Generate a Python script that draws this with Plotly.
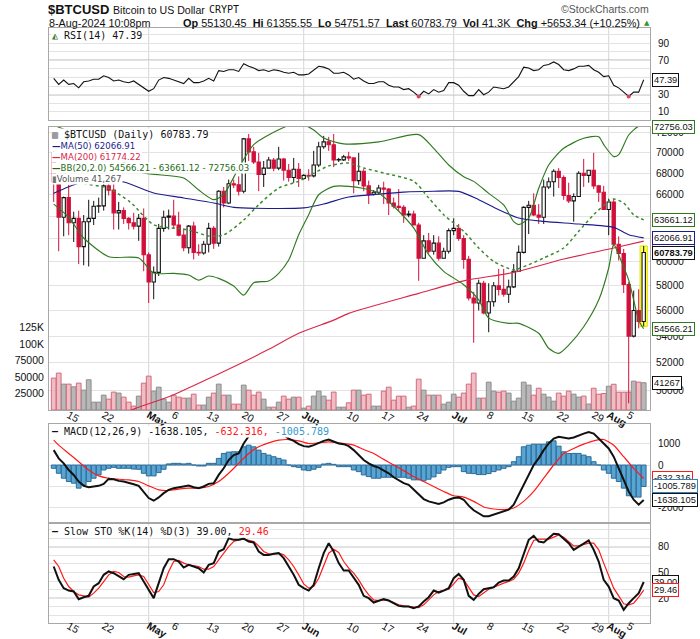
import numpy as np
import pandas as pd
import plotly.graph_objects as go

# ---------------------------------------------------------------- data
START_DATE = "2024-04-12"   # first daily candle (index 0)

OPEN = [70000, 67200, 63900, 65700, 63400, 63800, 61300, 63500, 63800, 64900,
        64940, 66800, 66400, 64300, 64500, 63800, 63400, 63100, 63800, 60600,
        58300, 59100, 62900, 63900, 64000, 63200, 62300, 61200, 63100, 60800,
        60750, 61500, 62900, 61600, 66300, 65200, 67000, 66900, 66300, 71400,
        70100, 69100, 67900, 68500, 69300, 68500, 69400, 68300, 67600, 68400,
        67500, 67800, 67750, 68800, 70600, 71100, 70800, 69300, 69310, 69600,
        69500, 67300, 68200, 66800, 66000, 66200, 66600, 66500, 65200, 64900,
        64800, 64100, 64200, 63200, 60300, 61800, 60900, 61600, 60300, 60900,
        62700, 62900, 62000, 60200, 57000, 56600, 58200, 55800, 56700, 58000,
        57700, 57300, 57900, 59200, 60800, 64800, 65000, 64100, 63900, 66700,
        67200, 68200, 67600, 65900, 65400, 65800, 68000, 67800, 68300, 66800,
        66200, 64600, 65300, 61500, 60700, 58100, 54000, 56000, 55130.45]
HIGH = [71200, 67900, 65800, 66900, 64400, 64500, 64100, 65500, 65400, 65700,
        67200, 67200, 67100, 65300, 64800, 63900, 64300, 64200, 64700, 60800,
        59600, 63300, 64500, 64600, 65500, 64400, 62900, 63200, 63500, 61500,
        61800, 63400, 63100, 66400, 66700, 67400, 67400, 67700, 71500, 71900,
        70600, 70000, 69200, 69600, 69500, 70600, 69500, 68900, 69500, 69000,
        67900, 68400, 70200, 71100, 71700, 71600, 71900, 69500, 69800, 70100,
        69500, 70000, 68400, 67300, 66400, 66900, 67200, 66600, 65700, 66500,
        65000, 64500, 64500, 63400, 62300, 62500, 62300, 62200, 61200, 62900,
        63800, 63300, 62300, 60500, 57500, 58500, 58400, 58200, 58300, 59400,
        59400, 58500, 59800, 61400, 64900, 65400, 66100, 65100, 67400, 67600,
        68400, 68500, 67800, 67100, 66100, 68200, 69400, 68300, 70000, 66900,
        66800, 65600, 65600, 62200, 61100, 58300, 57600, 57700, 61355.55]
LOW = [65300, 60900, 62200, 62300, 61700, 59800, 59700, 59600, 63200, 64300,
       64500, 65900, 62800, 62800, 63300, 62800, 62800, 61800, 59200, 56600,
       56900, 58800, 62600, 62800, 62900, 62200, 60900, 60700, 60200, 60500,
       60600, 60800, 61100, 61300, 64800, 65100, 66600, 65900, 66100, 69200,
       68900, 66300, 66700, 68500, 68200, 68300, 67300, 67200, 67100, 66700,
       67400, 67300, 67600, 68600, 70400, 70200, 68600, 69100, 69200, 69200,
       66100, 66900, 66300, 65100, 65900, 66000, 65100, 64100, 64700, 64500,
       63400, 63900, 63200, 58400, 60300, 60700, 60600, 60100, 60300, 60700,
       62300, 61800, 59400, 56800, 53500, 56000, 55700, 54300, 56300, 57200,
       57100, 56600, 57800, 59200, 60700, 62400, 64000, 63300, 63300, 66500,
       65800, 66600, 65500, 65200, 63500, 65800, 66700, 67100, 66500, 65300,
       64600, 62300, 61300, 60100, 57400, 49100, 53900, 54600, 54751.57]
CLOSE = [67200, 63900, 65700, 63400, 63800, 61300, 63500, 63800, 64900, 64940,
         66800, 66400, 64300, 64500, 63800, 63400, 63100, 63800, 60600, 58300,
         59100, 62900, 63900, 64000, 63200, 62300, 61200, 63100, 60800, 60750,
         61500, 62900, 61600, 66300, 65200, 67000, 66900, 66300, 71400, 70100,
         69100, 67900, 68500, 69300, 68500, 69400, 68300, 67600, 68400, 67500,
         67800, 67750, 68800, 70600, 71100, 70800, 69300, 69310, 69600, 69500,
         67300, 68200, 66800, 66000, 66200, 66600, 66500, 65200, 64900, 64800,
         64100, 64200, 63200, 60300, 61800, 60900, 61600, 60300, 60900, 62700,
         62900, 62000, 60200, 57000, 56600, 58200, 55800, 56700, 58000, 57700,
         57300, 57900, 59200, 60800, 64800, 65000, 64100, 63900, 66700, 67200,
         68200, 67600, 65900, 65400, 65800, 68000, 67800, 68300, 66800, 66200,
         64600, 65300, 61500, 60700, 58100, 54000, 56000, 55130.45, 60783.79]
VOLUME = [48300, 55900, 39200, 39200, 35100, 40700, 30100, 45800, 11900, 11900,
          22500, 16500, 27100, 25600, 19500, 11900, 5900, 21000, 40700,
          51300, 28600, 34600, 16500, 11900, 22500, 19500, 18000, 18000, 24000,
          7400, 7400, 19500, 25600, 39200, 22500, 22500, 8900, 8900, 37700,
          30100, 22500, 27100, 16500, 4300, 4300, 11900, 21000, 16500, 19500, 19500,
          2800, 5900, 21000, 28600, 21000, 14900, 27100, 4300, 4300, 10900,
          30100, 30100, 22500, 24000, 5900, 5900, 28600, 34600, 14900, 21000,
          21000, 4300, 5900, 46700, 30100, 22500, 22500, 22500, 8900, 11900,
          24000, 19500, 25600, 39200, 55900, 18000, 18000, 42200, 28600, 27100,
          28600, 25600, 13400, 18000, 42200, 37700, 22500, 33000, 24000, 19500,
          13400, 25600, 21000, 28600, 24000, 19500, 21000, 9000, 33000, 24000, 25000,
          36000, 39000, 27000, 27000, 27100, 43700, 42200, 41267]

RSI14 = [49, 42, 47, 42, 43, 38, 45, 46, 48, 48, 52, 50, 46, 47, 45, 44, 46, 42, 37, 34,
         37, 47, 50, 49, 47, 45, 43, 49, 44, 44, 46, 49, 46, 58, 57, 59, 59, 57, 66, 63,
         61, 58, 59, 57, 59, 58, 56, 55, 56, 53, 53, 54, 58, 63, 62, 60, 55, 55, 56, 53,
         48, 50, 46, 43, 43, 45, 45, 41, 39, 39, 36, 37, 33, 28, 34, 31, 36, 33, 35, 44,
         44, 41, 34, 29, 29, 36, 30, 33, 39, 38, 37, 39, 45, 51, 62, 61, 58, 59, 64, 65,
         68, 65, 59, 58, 60, 63, 63, 64, 59, 56, 51, 52, 41, 38, 33, 28, 33, 33, 47.39]

MACD_LINE = [698, 310, 78, -233, -465, -775, -977, -1039, -1008, -977,
             -884, -651, -667, -744, -775, -822, -899, -977, -1240, -1550,
             -1674, -1519, -1318, -1163, -1085, -1054, -1008, -961, -1039, -1085,
             -1008, -884, -853, -465, -155, 233, 465, 543, 1008, 1349,
             1520, 1560, 1520, 1500, 1490, 1470, 1400, 1240, 1132, 977,
             884, 853, 930, 1039, 1132, 1194, 1085, 1008, 977, 884,
             698, 465, 233, 78, -47, -124, -264, -388, -574, -729,
             -853, -930, -1163, -1395, -1597, -1705, -1783, -1829, -1752, -1628,
             -1550, -1519, -1628, -1907, -2124, -2248, -2403, -2403, -2325, -2217,
             -2170, -2093, -1860, -1395, -853, -388, 0, 310, 698, 1008,
             1240, 1318, 1287, 1240, 1287, 1395, 1473, 1550, 1473, 1240,
             1008, 775, 388, -155, -698, -1240, -1628, -1860, -1638.105]
MACD_HIST = [-155, -388, -620, -775, -853, -1085, -930, -775, -620, -465,
             -233, -155, -109, -155, -155, -155, -190, -200, -388, -512,
             -512, -357, -200, 50, 78, 78, 50, 78, 0, -47,
             -47, 78, 78, 310, 543, 605, 620, 620, 853, 930,
             853, 698, 543, 465, 388, 310, 233, 0, -78, -109,
             -233, -264, -200, -109, 47, 78, 30, -78, -78, -78,
             -233, -310, -465, -543, -620, -620, -574, -574, -574, -574,
             -574, -620, -698, -698, -744, -667, -558, -388, -233, -109,
             -78, -78, -310, -388, -403, -450, -450, -403, -310, -233,
             -155, -78, 155, 388, 853, 930, 977, 977, 977, 1085,
             1132, 884, 620, 543, 543, 543, 465, 388, 155, 0,
             -233, -388, -620, -775, -1085, -1442, -1504, -1504, -1005.789]
SIGNAL_DAY = [0, 1, 3, 5, 7, 9, 11, 13, 15, 17, 19, 21, 23, 25, 27, 29, 31, 33, 35, 37,
              39, 41, 43, 45, 47, 49, 51, 53, 55, 57, 59, 60, 62, 64, 66, 68, 70, 72, 74,
              76, 78, 80, 82, 84, 86, 88, 90, 92, 94, 96, 98, 100, 102, 104, 106, 108,
              110, 112, 114, 116, 118]
SIGNAL = [1163, 930, 543, 155, -233, -512, -620, -667, -698, -775, -977, -1163, -1194,
          -1132, -1085, -1085, -1008, -775, -388, 78, 543, 853, 1039, 1163, 1194, 1132,
          1008, 1039, 1085, 1039, 977, 930, 729, 543, 264, 0, -264, -543, -775, -1008,
          -1240, -1442, -1504, -1705, -1969, -2062, -2093, -2015, -1705, -1240, -620, 0,
          543, 775, 977, 1132, 1194, 930, 388, -155, -632.316]

STO_K = [57, 41.5, 31.8, 29, 27.9, 19, 21.3, 22.9, 33.7, 37.6, 47.3, 51.2, 49.2, 45.3,
         42.2, 47.3, 48.4, 49.2, 39.5, 29.8, 20.2, 37.6, 55, 65.5, 65.5, 62.8, 55.8, 58.9,
         57, 55, 50, 58.9, 60.9, 74.4, 77.1, 89.9, 88, 88, 89.5, 86, 84.9, 74.4, 70.5,
         70.5, 71.7, 72.5, 66.7, 57, 47.3, 35.7, 31.8, 29, 35.7, 55, 72.5, 84.1, 74.4,
         60.9, 52.3, 52.3,
         43.4, 35.7, 22.9, 20.2, 15.1, 17.4, 19, 17.4, 14.3, 11.2, 10.5, 10.5, 8.5, 10.5,
         16.3, 21.3, 29, 26.7, 29, 31.8, 43.4, 48.4, 41.5, 22.9, 18.2, 25.2, 30.6, 31.8,
         32.9, 38.4, 40.7, 40.7, 45.3, 55, 72.5, 88, 92.6, 86, 84.9, 89.9, 95, 94.6, 89.9,
         84.1, 76.4, 80.2, 84.1, 87.2, 76.4, 62.8, 41.5, 33.7, 20.2, 17.4, 6.6, 14.3, 20.2,
         26, 39.00]
STO_D = [64.7, 57, 43.4, 33.7, 27.9, 24, 22.9, 21.3, 26, 31.8, 39.5, 47.3, 51.2, 50,
         45.3, 44.6, 46.1, 47.3, 45.3, 35.7, 26.7, 27.9, 35.7, 51.2, 62.8, 64, 60.9, 58.9,
         57.8, 57, 53.9, 53.9, 57, 64.7, 72.5, 80.2, 86, 88, 88.8, 87.2, 86, 81, 74.4,
         71.7, 71.3, 72.5, 70.5, 64.7, 57, 47.3, 36.8, 31.8, 33.7, 43.4, 58.9, 72.5, 77.1,
         73.3, 62.8, 55,
         49.2, 41.5, 31.8, 24, 18.2, 17.4, 18.2, 17.4, 15.1, 12.4, 11.2, 10.5, 9.7, 9.3,
         12.4, 18.2, 24, 27.9, 29, 30.6, 36.8, 43.4, 41.5, 32.9, 24, 22.1, 26.7, 30.6,
         32.9, 35.7, 37.6, 39.5, 42.2, 49.2, 60.9, 75.6, 87.2, 88.8, 88.8, 88.8, 91.1,
         93.8, 91.1, 86, 81, 81, 82.2, 84.1, 84.1, 76.4, 60.9, 45.3, 31.8, 22.9, 13.6,
         12.4, 14.3, 21.3, 29.46]

MA50_DAY = [0, 5, 10, 14, 20, 26, 32, 36, 43, 50, 54, 59, 64, 70, 76, 81, 85, 89, 93,
            98, 105, 112, 115, 118]
MA50 = [66100, 67050, 67250, 67170, 66130, 65670, 65200, 64800, 64700, 64750, 65110,
        65760, 65980, 66220, 66300, 66280, 65510, 64590, 63830, 63530, 63290, 62990,
        62340, 62066.91]
MA200_DAY = [0, 16, 23, 29, 36, 43, 49, 56, 59, 73, 82, 92, 102, 112, 118]
MA200 = [46450, 48700, 49560, 50510, 51710, 53000, 54220, 55240, 55770, 57370, 58400,
         59100, 60230, 61180, 61774.22]
BB_UP_DAY = [0, 6, 11, 15, 18, 26, 29, 32, 34, 37, 40, 45, 49, 52, 54, 58, 65, 73, 76,
             79, 82, 84, 87, 90, 92, 93, 95, 97, 99, 102, 106, 109, 110, 112, 113, 115,
             117, 118]
BB_UP = [72800, 71500, 70000, 68800, 68040, 67550, 66410, 65510, 66000, 68510, 70820,
         72330, 73030, 72300, 71490, 70890, 71090, 71830, 70450, 68810, 67680, 67230,
         66100, 65020, 63500, 63240, 63830, 66570, 68810, 70450, 71460, 71620, 70820,
         69630, 69820, 71790, 72700, 72756.03]
BB_MID_DAY = [0, 5, 11, 15, 16, 20, 27, 31, 34, 38, 41, 45, 49, 52, 55, 59, 62, 66, 72,
              75, 78, 82, 85, 88, 92, 95, 98, 102, 105, 108, 111, 112, 114, 116, 118]
BB_MID = [68900, 67200, 66570, 65390, 64990, 63230, 62760, 62230, 62320, 63650, 65040,
          66600, 67240, 68000, 68710, 69000, 68510, 68030, 67240, 65670, 64130, 62640,
          61180, 60030, 59320, 59750, 60320, 61180, 62640, 64130, 65360, 65570, 65200,
          64130, 63661.12]
BB_LO_DAY = [0, 3, 6, 11, 17, 20, 24, 27, 29, 31, 33, 36, 38, 40, 43, 45, 47, 49, 51,
             53, 56, 59, 62, 65, 68, 72, 75, 78, 82, 85, 87, 91, 93, 97, 99, 101, 103,
             106, 109, 111, 112, 113, 115, 116, 117, 118]
BB_LO = [65100, 63900, 62050, 60430, 60320, 59050, 59020, 58880, 58460, 58800, 58600,
         57970, 57230, 58240, 58390, 59020, 60140, 62340, 64130, 65970, 66760, 66760,
         66550, 66130, 64900, 62940, 60600, 59190, 58080, 56850, 55400, 54990, 54990,
         54220, 53080, 52700, 53320, 54720, 56830, 59470, 61520, 60570, 58460, 56830,
         55220, 54566.21]

TICK_DATES = ["2024-04-15", "2024-04-22", "2024-05-01", "2024-05-06", "2024-05-13",
              "2024-05-20", "2024-05-27", "2024-06-01", "2024-06-10", "2024-06-17",
              "2024-06-24", "2024-07-01", "2024-07-08", "2024-07-15", "2024-07-22",
              "2024-07-29", "2024-08-01", "2024-08-05"]
TICK_TEXT = ["15", "22", "<b>May</b>", "6", "13", "20", "27", "<b>Jun</b>", "10", "17",
             "24", "<b>Jul</b>", "8", "15", "22", "29", "<b>Aug</b>", "5"]
MONTH_STARTS = ["2024-05-01", "2024-06-01", "2024-07-01", "2024-08-01"]
PRICE_TICKS = list(range(50000, 72001, 2000))
PRICE_TICK_TEXT = ["50000", "52000", "54000", "56000", "58000", "60000", "", "",
                   "66000", "68000", "70000", "72000"]   # 62000/64000 sit under the value boxes
VOL_TICKS = [25000, 50000, 75000, 100000, 125000]
VOL_TICK_TEXT = ["25000", "50000", "75000", "100K", "125K"]

# ---------------------------------------------------------------- layout constants
X_RANGE = ["2024-04-11 01:26", "2024-08-09 06:15"]
PRICE_RANGE = [48640, 72660]
VOL_RANGE = [0, 429500]
RSI_RANGE = [0.7, 107.4]
MACD_RANGE = [-2672, 1922]
STO_RANGE = [-8.7, 106.4]

L_PX, R_PX, T_PX, B_PX = 49, 650, 28, 623


def fx(px):
    return (px - L_PX) / (R_PX - L_PX)


def fy(py):
    return (B_PX - py) / (B_PX - T_PX)


RSI_DOM = [fy(120), fy(28)]
MAIN_DOM = [fy(410), fy(126.5)]
MACD_DOM = [fy(522), fy(424)]
STO_DOM = [fy(623), fy(524)]

RED = "#d0103a"
BLACK = "#111111"
GREEN = "#2f7a1f"
NAVY = "#1c1c8c"
MA200_C = "#d8284a"
GRID = "#e3e3e3"
BORDER = "#a8a8a8"
REFLINE = "#6e6e6e"
DAY_MS = 86400000

dates = pd.date_range(START_DATE, periods=len(CLOSE), freq="D")


def dx(idx):
    return [dates[j] for j in idx]


prev_close = [OPEN[0]] + CLOSE[:-1]
up_col = [c >= p for c, p in zip(CLOSE, prev_close)]
hollow = [c >= o for c, o in zip(CLOSE, OPEN)]

fig = go.Figure()

# ---------------------------------------------------------------- volume (base of main panel)
fig.add_trace(go.Bar(
    x=dates, y=VOLUME, xaxis="x2", yaxis="y2", width=0.95 * DAY_MS,
    marker=dict(color=["#b8b8b8" if u else "rgba(236,178,186,0.85)" for u in up_col],
                line=dict(color=["#8d8d8d" if u else "#d46a7b" for u in up_col], width=1)),
    hoverinfo="skip"))

# ---------------------------------------------------------------- candles
fig.add_trace(go.Bar(
    x=[dates[-1]], base=[LOW[-1]], y=[HIGH[-1] - LOW[-1]], xaxis="x2", yaxis="y3",
    width=1.45 * DAY_MS, marker=dict(color="#ffff55", line=dict(color="#e2e200", width=1)),
    hoverinfo="skip"))

body_base = [min(o, c) for o, c in zip(OPEN, CLOSE)]
body_h = [max(abs(c - o), 35) for o, c in zip(OPEN, CLOSE)]
body_fill = ["white" if h else (BLACK if u else RED) for h, u in zip(hollow, up_col)]
body_line = [BLACK if u else RED for u in up_col]
fig.add_trace(go.Bar(
    x=dates, base=body_base, y=body_h, xaxis="x2", yaxis="y3", width=0.66 * DAY_MS,
    marker=dict(color=body_fill, line=dict(color=body_line, width=1.1)),
    hoverinfo="skip"))

for want_up, col in ((True, BLACK), (False, RED)):
    wx, wy = [], []
    for d, o, h, l, c, u in zip(dates, OPEN, HIGH, LOW, CLOSE, up_col):
        if u != want_up:
            continue
        top, bot = max(o, c), min(o, c)
        wx += [d, d, None, d, d, None]
        wy += [top, h, None, l, bot, None]
    fig.add_trace(go.Scatter(x=wx, y=wy, xaxis="x2", yaxis="y3", mode="lines",
                             line=dict(color=col, width=1), hoverinfo="skip"))

# ---------------------------------------------------------------- overlays
def overlay(days, vals, color, width=1.15, dash=None):
    fig.add_trace(go.Scatter(x=dx(days), y=vals, xaxis="x2", yaxis="y3", mode="lines",
                             line=dict(color=color, width=width, dash=dash, shape="spline",
                                       smoothing=0.7),
                             hoverinfo="skip"))


overlay(MA200_DAY, MA200, MA200_C)
overlay(MA50_DAY, MA50, NAVY)
overlay(BB_UP_DAY, BB_UP, GREEN)
overlay(BB_LO_DAY, BB_LO, GREEN)
overlay(BB_MID_DAY, BB_MID, "#3d8a2c", 1.5, "dot")

# ---------------------------------------------------------------- RSI
fig.add_trace(go.Scatter(x=dates, y=RSI14, xaxis="x", yaxis="y", mode="lines",
                         line=dict(color=BLACK, width=1.1), hoverinfo="skip"))
os_idx = [j for j, v in enumerate(RSI14) if v < 28.5]
fig.add_trace(go.Scatter(x=dx(os_idx), y=[RSI14[j] for j in os_idx], xaxis="x", yaxis="y",
                         mode="markers", marker=dict(color="#e0405a", size=4),
                         hoverinfo="skip"))

# ---------------------------------------------------------------- MACD
fig.add_trace(go.Bar(x=dates, y=MACD_HIST, xaxis="x3", yaxis="y4", width=0.95 * DAY_MS,
                     marker=dict(color="#58a5d3", line=dict(color="#2c6b98", width=1)),
                     hoverinfo="skip"))
fig.add_trace(go.Scatter(x=dx(SIGNAL_DAY), y=SIGNAL, xaxis="x3", yaxis="y4", mode="lines",
                         line=dict(color="#ff1a1a", width=1.2, shape="spline", smoothing=0.6),
                         hoverinfo="skip"))
fig.add_trace(go.Scatter(x=dates, y=MACD_LINE, xaxis="x3", yaxis="y4", mode="lines",
                         line=dict(color=BLACK, width=2), hoverinfo="skip"))

# ---------------------------------------------------------------- Slow stochastics
fig.add_trace(go.Scatter(x=dates, y=STO_D, xaxis="x4", yaxis="y5", mode="lines",
                         line=dict(color="#ff1a1a", width=1.2), hoverinfo="skip"))
fig.add_trace(go.Scatter(x=dates, y=STO_K, xaxis="x4", yaxis="y5", mode="lines",
                         line=dict(color=BLACK, width=2), hoverinfo="skip"))

# ---------------------------------------------------------------- axes
TICKF = dict(family="Liberation Sans, Arial", size=10, color="#111")
XTICKF = dict(family="Liberation Sans, Arial", size=10.5, color="#111")


def xax(anchor, labels, standoff=-6):
    d = dict(domain=[0, 1], anchor=anchor, type="date", range=X_RANGE, showgrid=False,
             zeroline=False, showline=True, mirror=True, linecolor=BORDER, linewidth=1,
             fixedrange=True, automargin=False)
    if labels:
        d.update(tickmode="array", tickvals=TICK_DATES, ticktext=TICK_TEXT, tickfont=XTICKF,
                 ticks="", ticklabelstandoff=standoff)
    else:
        d.update(showticklabels=False)
    return d


YCOMMON = dict(zeroline=False, automargin=False, ticks="", fixedrange=True)

fig.update_layout(
    template="none",
    width=700, height=639, autosize=False,
    margin=dict(l=L_PX, r=700 - R_PX, t=T_PX, b=639 - B_PX, pad=0),
    paper_bgcolor="white", plot_bgcolor="white", showlegend=False, barmode="overlay",
    xaxis=xax("y", False),
    xaxis2=xax("y2", True, -6),
    xaxis3=xax("y4", False),
    xaxis4=xax("y5", True, -8),
    yaxis=dict(YCOMMON, domain=RSI_DOM, anchor="x", side="right", range=RSI_RANGE,
               tickmode="array", tickvals=[10, 30, 70, 90], tickfont=TICKF,
               showgrid=True, gridcolor=GRID, showline=True, mirror=True,
               linecolor=BORDER, ticklabelstandoff=5,
               minor=dict(tickmode="linear", tick0=0, dtick=10, showgrid=True,
                          gridcolor=GRID)),
    yaxis2=dict(YCOMMON, domain=MAIN_DOM, anchor="x2", side="left", range=VOL_RANGE,
                tickmode="array", tickvals=VOL_TICKS, ticktext=VOL_TICK_TEXT,
                tickfont=dict(family="Liberation Sans, Arial", size=10.5, color="#111"),
                showgrid=False, showline=True, mirror=True,
                linecolor=BORDER, ticklabelstandoff=2),
    yaxis3=dict(YCOMMON, overlaying="y2", anchor="x2", side="right", type="log",
                range=[np.log10(PRICE_RANGE[0]), np.log10(PRICE_RANGE[1])],
                tickmode="array", tickvals=PRICE_TICKS, ticktext=PRICE_TICK_TEXT,
                tickfont=TICKF, showgrid=True, gridcolor=GRID, ticklabelstandoff=5),
    yaxis4=dict(YCOMMON, domain=MACD_DOM, anchor="x3", side="right", range=MACD_RANGE,
                tickmode="array", tickvals=[-2000, -1000, 0, 1000],
                ticktext=["-2000", "", "0", "1000"], tickfont=TICKF,
                showgrid=True, gridcolor=GRID, showline=True, mirror=True,
                linecolor=BORDER, ticklabelstandoff=5),
    yaxis5=dict(YCOMMON, domain=STO_DOM, anchor="x4", side="right", range=STO_RANGE,
                tickmode="array", tickvals=[20, 50, 80], tickfont=TICKF,
                showgrid=True, gridcolor=GRID, showline=True, mirror=True,
                linecolor=BORDER, ticklabelstandoff=5,
                minor=dict(tickmode="linear", tick0=0, dtick=10, showgrid=True,
                           gridcolor=GRID)),
)

# month separators
for yref in ("y domain", "y2 domain", "y4 domain", "y5 domain"):
    xr = {"y domain": "x", "y2 domain": "x2", "y4 domain": "x3", "y5 domain": "x4"}[yref]
    for m in MONTH_STARTS:
        fig.add_shape(type="line", xref=xr, yref=yref, x0=m, x1=m, y0=0, y1=1,
                      line=dict(color="#d6d6d6", width=1), layer="below")

# reference levels
for yref, lvls in (("y", (30, 70)), ("y5", (20, 80))):
    for v in lvls:
        fig.add_shape(type="line", xref="paper", yref=yref, x0=0, x1=1, y0=v, y1=v,
                      line=dict(color=REFLINE, width=1), layer="below")
    fig.add_shape(type="line", xref="paper", yref=yref, x0=0, x1=1, y0=50, y1=50,
                  line=dict(color=REFLINE, width=1, dash="dashdot"), layer="below")

# ---------------------------------------------------------------- texts
def ann(text, xp, yp, font, xanchor="left", bg=None):
    fig.add_annotation(text=text, x=fx(xp), y=fy(yp), xref="paper", yref="paper",
                       showarrow=False, xanchor=xanchor, yanchor="middle", font=font,
                       bgcolor=bg, borderpad=0)


chg = CLOSE[-1] - CLOSE[-2]
pct = chg / CLOSE[-2] * 100
ann("<b>$BTCUSD</b>", 47, 9.5, dict(family="Liberation Sans, Arial", size=13, color="#111"))
ann("Bitcoin to US Dollar", 112, 9.5, dict(family="Liberation Sans, Arial", size=10.6,
                                           color="#111"))
ann("CRYPT", 208, 9.5, dict(family="DejaVu Sans Mono", size=10, color="#111"))
ann("©StockCharts.com", 650, 9, dict(family="Liberation Sans, Arial", size=10.5,
                                      color="#555"), xanchor="right")
ann("8-Aug-2024 10:08pm", 48, 23, dict(family="Liberation Sans, Arial", size=10.8,
                                       color="#111"))
ann(f"<b>Op</b> {OPEN[-1]:.2f}  <b>Hi</b> {HIGH[-1]:.2f}  <b>Lo</b> {LOW[-1]:.2f}  "
    f"<b>Last</b> {CLOSE[-1]:.2f}  <b>Vol</b> {VOLUME[-1] / 1000:.1f}K  "
    f"<b>Chg</b> +{chg:.2f} (+{pct:.2f}%)", 641, 23,
    dict(family="Liberation Sans, Arial", size=10.9, color="#111"), xanchor="right")
ann("▲", 643, 23, dict(family="DejaVu Sans", size=7, color="#2c9a2c"))

MONO = dict(family="DejaVu Sans Mono", size=10, color="#111")
ann(f"<span style='color:#3c7a2c'>◭</span> RSI(14) {RSI14[-1]:.2f}", 51, 35.5, MONO,
    bg="white")
ann(f"<span style='color:#555'>▥</span> $BTCUSD (Daily) {CLOSE[-1]:.2f}", 51, 134, MONO,
    bg="white")
SMALL = dict(family="DejaVu Sans", size=8.6)
ann(f"<b>—</b>MA(50) {MA50[-1]:.2f}", 51, 145.5, dict(SMALL, color=NAVY), bg="white")
ann(f"<b>—</b>MA(200) {MA200[-1]:.2f}", 51, 156.5, dict(SMALL, color=MA200_C), bg="white")
ann(f"<b>—</b>BB(20,2.0) {BB_LO[-1]:.2f} - {BB_MID[-1]:.2f} - {BB_UP[-1]:.2f}", 51, 167.5,
    dict(SMALL, color="#226b16"), bg="white")
ann(f"<span style='color:#777'>▮</span>Volume {VOLUME[-1]:,}", 51, 178.5,
    dict(SMALL, color="#555"), bg="white")
ann(f"<b>—</b> MACD(12,26,9) {MACD_LINE[-1]:.3f}, <span style='color:#ff1a1a'>"
    f"{SIGNAL[-1]:.3f},</span> <span style='color:#3399cc'>{MACD_HIST[-1]:.3f}</span>",
    51, 431.5, MONO, bg="white")
ann(f"<b>—</b> Slow STO %K(14) %D(3) {STO_K[-1]:.2f}, <span style='color:#ff1a1a'>"
    f"{STO_D[-1]:.2f}</span>", 51, 531, MONO, bg="white")


def vbox(text, yref, yval, color, bold=False):
    fig.add_annotation(text=f"<b>{text}</b>" if bold else text, x=fx(652), y=yval,
                       xref="paper", yref=yref, showarrow=False, xanchor="left",
                       yanchor="middle", bgcolor="white", bordercolor=color, borderwidth=1,
                       borderpad=1,
                       font=dict(family="Liberation Sans, Arial", size=9.3, color="#111"))


def price_pos(v):
    # keep the value box inside the price axis so it stays visible at the panel edge
    return np.log10(min(max(v, PRICE_RANGE[0]), PRICE_RANGE[1] * 0.9995))


vbox(f"{RSI14[-1]:.2f}", "y", RSI14[-1], BLACK)
vbox(f"{BB_UP[-1]:.2f}", "y3", price_pos(BB_UP[-1]), GREEN)
vbox(f"{BB_MID[-1]:.2f}", "y3", price_pos(BB_MID[-1]), GREEN)
vbox(f"{MA200[-1]:.2f}", "y3", price_pos(MA200[-1]), MA200_C)
vbox(f"{MA50[-1]:.2f}", "y3", price_pos(MA50[-1]), NAVY)
vbox(f"{CLOSE[-1]:.2f}", "y3", price_pos(CLOSE[-1]), BLACK, bold=True)
vbox(f"{BB_LO[-1]:.2f}", "y3", price_pos(BB_LO[-1]), GREEN)
vbox(f"{VOLUME[-1]}", "y2", VOLUME[-1], BLACK)
vbox(f"{SIGNAL[-1]:.3f}", "y4", SIGNAL[-1], "#ff1a1a")
vbox(f"{MACD_HIST[-1]:.3f}", "y4", MACD_HIST[-1], "#3a7fb8")
vbox(f"{MACD_LINE[-1]:.3f}", "y4", MACD_LINE[-1], BLACK)
vbox(f"{STO_K[-1]:.2f}", "y5", STO_K[-1], BLACK)
vbox(f"{STO_D[-1]:.2f}", "y5", STO_D[-1], "#ff1a1a")

fig.write_html("out.html", config={"displayModeBar": False, "staticPlot": True},
               post_script="document.body.style.margin='0px';")
